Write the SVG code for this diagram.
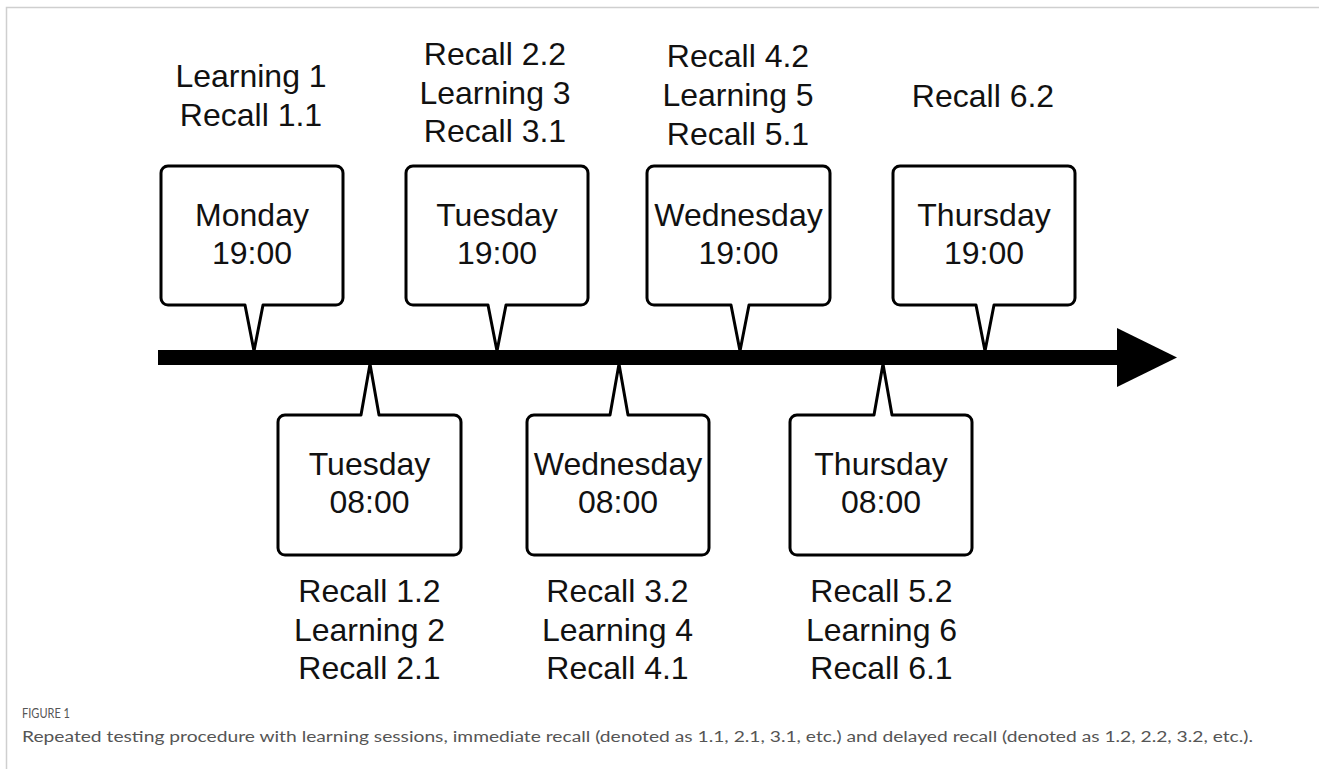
<svg xmlns="http://www.w3.org/2000/svg" width="1319" height="769" viewBox="0 0 1319 769">
<style>
.callout{fill:#fff;stroke:#000;stroke-width:3;stroke-linejoin:round}
.t{font-family:"Liberation Sans",Arial,Helvetica,sans-serif;font-size:32px;fill:#111;text-anchor:middle}
.cap{font-family:Lato,"Open Sans",sans-serif;fill:#555}
</style>
<rect x="0" y="0" width="1319" height="769" fill="#fff"/>
<path d="M6.5,769 V7.5 H1319" fill="none" stroke="#cfcfcf" stroke-width="1.5"/>

<g id="node-mon19">
<path class="callout" d="M168,166 H336 A7,7 0 0 1 343,173 V298 A7,7 0 0 1 336,305 H263 L254,351 L245,305 H168 A7,7 0 0 1 161,298 V173 A7,7 0 0 1 168,166 Z"/>
<text class="t" x="252" y="226">Monday</text>
<text class="t" x="252" y="264">19:00</text>
<text class="t" x="251" y="87">Learning 1</text>
<text class="t" x="251" y="126">Recall 1.1</text>
</g>

<g id="node-tue19">
<path class="callout" d="M413,166 H581 A7,7 0 0 1 588,173 V298 A7,7 0 0 1 581,305 H506 L497,351 L488,305 H413 A7,7 0 0 1 406,298 V173 A7,7 0 0 1 413,166 Z"/>
<text class="t" x="497" y="226">Tuesday</text>
<text class="t" x="497" y="264">19:00</text>
<text class="t" x="495" y="65">Recall 2.2</text>
<text class="t" x="495" y="104">Learning 3</text>
<text class="t" x="495" y="142">Recall 3.1</text>
</g>

<g id="node-wed19">
<path class="callout" d="M654,166 H823 A7,7 0 0 1 830,173 V298 A7,7 0 0 1 823,305 H749 L740,351 L731,305 H654 A7,7 0 0 1 647,298 V173 A7,7 0 0 1 654,166 Z"/>
<text class="t" x="738.5" y="226">Wednesday</text>
<text class="t" x="738.5" y="264">19:00</text>
<text class="t" x="738" y="67">Recall 4.2</text>
<text class="t" x="738" y="106">Learning 5</text>
<text class="t" x="738" y="145">Recall 5.1</text>
</g>

<g id="node-thu19">
<path class="callout" d="M900,166 H1068 A7,7 0 0 1 1075,173 V298 A7,7 0 0 1 1068,305 H994 L985,351 L976,305 H900 A7,7 0 0 1 893,298 V173 A7,7 0 0 1 900,166 Z"/>
<text class="t" x="984" y="226">Thursday</text>
<text class="t" x="984" y="264">19:00</text>
<text class="t" x="983" y="107">Recall 6.2</text>
</g>

<g id="node-tue08">
<path class="callout" d="M285,415 H361 L370,364 L379,415 H454 A7,7 0 0 1 461,422 V548 A7,7 0 0 1 454,555 H285 A7,7 0 0 1 278,548 V422 A7,7 0 0 1 285,415 Z"/>
<text class="t" x="369.5" y="475">Tuesday</text>
<text class="t" x="369.5" y="513">08:00</text>
<text class="t" x="369.5" y="602">Recall 1.2</text>
<text class="t" x="369.5" y="641">Learning 2</text>
<text class="t" x="369.5" y="679">Recall 2.1</text>
</g>

<g id="node-wed08">
<path class="callout" d="M534,415 H610 L619,364 L628,415 H702 A7,7 0 0 1 709,422 V548 A7,7 0 0 1 702,555 H534 A7,7 0 0 1 527,548 V422 A7,7 0 0 1 534,415 Z"/>
<text class="t" x="618" y="475">Wednesday</text>
<text class="t" x="618" y="513">08:00</text>
<text class="t" x="617.5" y="602">Recall 3.2</text>
<text class="t" x="617.5" y="641">Learning 4</text>
<text class="t" x="617.5" y="679">Recall 4.1</text>
</g>

<g id="node-thu08">
<path class="callout" d="M797,415 H874 L883,364 L892,415 H965 A7,7 0 0 1 972,422 V548 A7,7 0 0 1 965,555 H797 A7,7 0 0 1 790,548 V422 A7,7 0 0 1 797,415 Z"/>
<text class="t" x="881" y="475">Thursday</text>
<text class="t" x="881" y="513">08:00</text>
<text class="t" x="881.5" y="602">Recall 5.2</text>
<text class="t" x="881.5" y="641">Learning 6</text>
<text class="t" x="881.5" y="679">Recall 6.1</text>
</g>

<g id="connectors">
<rect x="158" y="350" width="960" height="15" fill="#000"/>
<polygon points="1117,328 1177,357.5 1117,387" fill="#000"/>
</g>

<g id="caption">
<text class="cap" x="22" y="718" font-size="12.5" textLength="48" lengthAdjust="spacingAndGlyphs">FIGURE 1</text>
<text class="cap" x="22" y="742" font-size="15.5" textLength="1231" lengthAdjust="spacingAndGlyphs">Repeated testing procedure with learning sessions, immediate recall (denoted as 1.1, 2.1, 3.1, etc.) and delayed recall (denoted as 1.2, 2.2, 3.2, etc.).</text>
</g>
</svg>
